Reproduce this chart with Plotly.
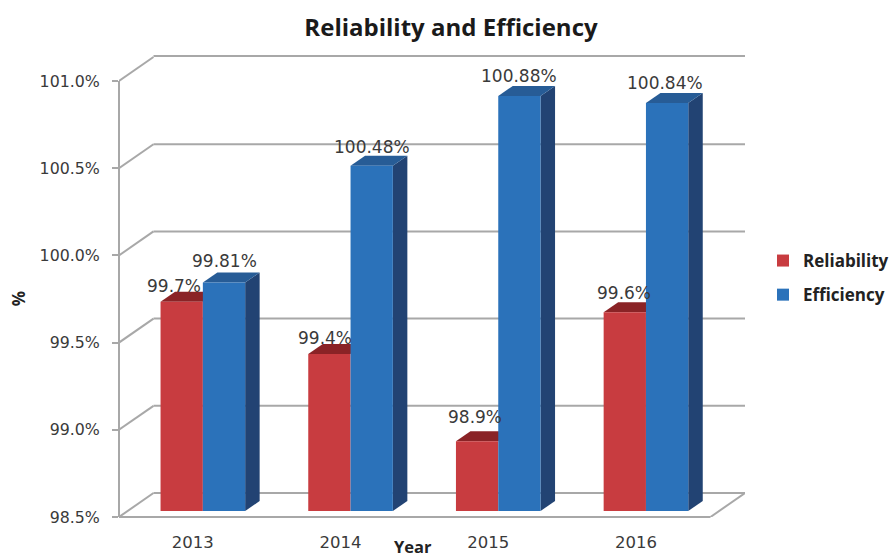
import plotly.graph_objects as go

# ---- data ----
years = ["2013", "2014", "2015", "2016"]
reliability = [99.7, 99.4, 98.9, 99.64]
efficiency = [99.81, 100.48, 100.88, 100.84]
reliability_labels = ["99.7%", "99.4%", "98.9%", "99.6%"]
efficiency_labels = ["99.81%", "100.48%", "100.88%", "100.84%"]
y_ticks = [98.5, 99.0, 99.5, 100.0, 100.5, 101.0]
y_tick_labels = ["98.5%", "99.0%", "99.5%", "100.0%", "100.5%", "101.0%"]

# ---- style: scale of the axes and the pseudo-3D depth ----
W, H = 889, 557
L, R, T, B = 119, 745, 55.7, 517
PX_X = 147.7
Y_MIN = y_ticks[0]
PX_Y = (B - 80.7) / (y_ticks[-1] - y_ticks[0])
X_MIN = -0.5
X_MAX = X_MIN + (R - L) / PX_X
Y_MAX = Y_MIN + (B - T) / PX_Y

DEPTH_X = (R - 710.5) / PX_X      # floor depth
DEPTH_Y = (B - 493) / PX_Y
PLANE_X = 10 / PX_X                # where the bars' front plane sits
PLANE_Y = 6 / PX_Y
BAR_DX = 14.5 / PX_X               # depth of a bar
BAR_DY = 10 / PX_Y
BAR_W = 42.3 / PX_X

GRID = "#A8A8A8"
RED, RED_TOP = "#C83C40", "#8A2326"
BLUE, BLUE_TOP, BLUE_SIDE = "#2B72BA", "#275C96", "#224373"
TEXT = "#3A3A3A"
FONT = "DejaVu Sans"
BOLD = "Open Sans"

shapes = []


def line(x0, y0, x1, y1, xref="x", yref="y"):
    shapes.append(dict(type="line", xref=xref, yref=yref, x0=x0, y0=y0, x1=x1, y1=y1,
                       layer="below", line=dict(color=GRID, width=2)))


def poly(points, color):
    path = "M " + " L ".join(f"{x},{y}" for x, y in points) + " Z"
    shapes.append(dict(type="path", xref="x", yref="y", path=path, layer="below",
                       fillcolor=color, line=dict(width=0)))


# walls and floor (paper refs on the lines that lie on the plot's edge, so they are not clipped in half)
x_front_end = X_MAX - DEPTH_X
for t in y_ticks:
    line(X_MIN, t, X_MIN + DEPTH_X, t + DEPTH_Y)
    if t == y_ticks[-1]:
        line(X_MIN + DEPTH_X, 1, X_MAX, 1, yref="paper")
    else:
        line(X_MIN + DEPTH_X, t + DEPTH_Y, X_MAX, t + DEPTH_Y)
line(0, y_ticks[0], 0, y_ticks[-1], xref="paper")
line(X_MIN, 0, x_front_end, 0, yref="paper")
line(x_front_end, y_ticks[0], X_MAX, y_ticks[0] + DEPTH_Y)

bar_floor = Y_MIN + PLANE_Y
red_x = [i + PLANE_X - BAR_W for i in range(len(years))]
blue_x = [i + PLANE_X for i in range(len(years))]

# bar tops and sides (bars' front faces are drawn by the bar traces above these)
for x0, v in zip(red_x, reliability):
    top = v + PLANE_Y
    poly([(x0, top), (x0 + BAR_W, top), (x0 + BAR_W + BAR_DX, top + BAR_DY),
          (x0 + BAR_DX, top + BAR_DY)], RED_TOP)
for x0, v in zip(blue_x, efficiency):
    top = v + PLANE_Y
    poly([(x0 + BAR_W, bar_floor), (x0 + BAR_W + BAR_DX, bar_floor + BAR_DY),
          (x0 + BAR_W + BAR_DX, top + BAR_DY), (x0 + BAR_W, top)], BLUE_SIDE)
    poly([(x0, top), (x0 + BAR_W, top), (x0 + BAR_W + BAR_DX, top + BAR_DY),
          (x0 + BAR_DX, top + BAR_DY)], BLUE_TOP)

fig = go.Figure()
fig.add_trace(go.Bar(name="Reliability", x=red_x, y=[v - Y_MIN for v in reliability],
                     base=bar_floor, offset=0, width=BAR_W, legendgroup="r",
                     marker=dict(color=RED, line=dict(width=0))))
fig.add_trace(go.Bar(name="Efficiency", x=blue_x, y=[v - Y_MIN for v in efficiency],
                     base=bar_floor, offset=0, width=BAR_W, legendgroup="e",
                     marker=dict(color=BLUE, line=dict(width=0))))

# value labels
red_shift = [(-8, 16), (-4, 16), (-2, 24), (-1, 19)]
blue_shift = [(0, 22), (0, 19), (0, 20), (-2, 20)]
annotations = []
for xs, vals, labels, shifts in ((red_x, reliability, reliability_labels, red_shift),
                                 (blue_x, efficiency, efficiency_labels, blue_shift)):
    for x0, v, lab, (dx, dy) in zip(xs, vals, labels, shifts):
        annotations.append(dict(x=x0 + BAR_W / 2, y=v + PLANE_Y, text=lab, showarrow=False,
                                xshift=dx, yshift=dy, xanchor="center", yanchor="middle",
                                font=dict(family=FONT, size=17, color=TEXT)))
annotations.append(dict(xref="paper", yref="paper", x=(413 - L) / (R - L), y=(B - 546.5) / (B - T),
                        text="<b>Year</b>", showarrow=False, xanchor="center", yanchor="middle",
                        font=dict(family=BOLD, size=16.5, color="#222222")))
annotations.append(dict(xref="paper", yref="paper", x=(18 - L) / (R - L), y=(B - 299) / (B - T),
                        text="<b>%</b>", showarrow=False, textangle=-90, xanchor="center",
                        yanchor="middle", font=dict(family=BOLD, size=17, color="#222222")))

fig.update_layout(
    width=W, height=H, autosize=False,
    margin=dict(l=L, r=W - R, t=T, b=H - B, pad=0),
    paper_bgcolor="white", plot_bgcolor="white",
    barmode="overlay", shapes=shapes, annotations=annotations,
    title=dict(text="<b>Reliability and Efficiency</b>", x=451 / W, xanchor="center",
               y=1 - 28 / H, yanchor="middle", xref="container",
               font=dict(family=BOLD, size=24, color="#1A1A1A")),
    legend=dict(x=763 / W, xref="container", y=1 - 243 / H, yref="container",
                xanchor="left", yanchor="top",
                tracegroupgap=9, itemclick=False, itemdoubleclick=False,
                font=dict(family=BOLD, size=17, color="#222222", weight="bold"),
                bgcolor="rgba(0,0,0,0)"),
    xaxis=dict(range=[X_MIN, X_MAX], tickmode="array", tickvals=list(range(len(years))),
               ticktext=years, showgrid=False, zeroline=False, showline=False, automargin=False,
               ticks="outside", ticklen=10, tickcolor="rgba(0,0,0,0)",
               tickfont=dict(family=FONT, size=16.5, color=TEXT)),
    yaxis=dict(range=[Y_MIN, Y_MAX], tickmode="array", tickvals=y_ticks, ticktext=y_tick_labels,
               showgrid=False, zeroline=False, showline=False, automargin=False,
               ticks="outside", ticklen=6,
               tickwidth=2, tickcolor=GRID, ticklabelstandoff=9,
               tickfont=dict(family=FONT, size=15.8, color=TEXT)),
)

fig.write_html("out.html", config={"displayModeBar": False},
               post_script="document.body.style.margin='0';")
